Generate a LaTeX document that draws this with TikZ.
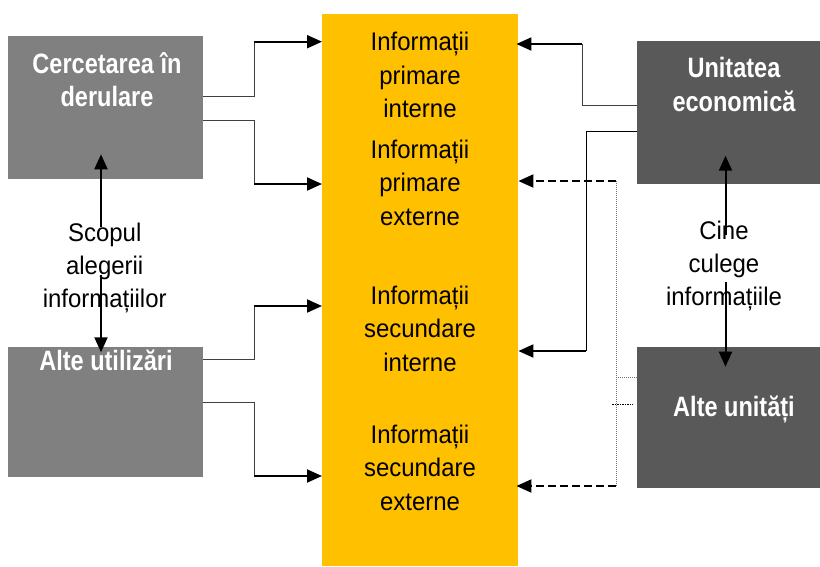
\documentclass[tikz,border=0pt]{standalone}
\usepackage{fontspec}
\setmainfont{Liberation Sans}
\newfontfamily\regf{Liberation Sans}[FakeStretch=0.94]
\newfontfamily\boldf{Liberation Sans}[FakeStretch=0.84]
\usetikzlibrary{arrows.meta}
\definecolor{lgray}{HTML}{808080}
\definecolor{dgray}{HTML}{595959}
\definecolor{gold}{HTML}{FFC000}
\begin{document}
\begin{tikzpicture}[x=1pt,y=-1pt,
  boxL/.style={fill=lgray, draw=none, anchor=north west, inner sep=0, minimum width=195pt},
  boxR/.style={fill=dgray, draw=none, anchor=north west, inner sep=0, minimum width=183pt},
  btext/.style={anchor=north, align=center, inner sep=0, text=white, font=\boldf\bfseries\fontsize{28}{33.5}\selectfont},
  ytext/.style={anchor=north, align=center, inner sep=0, font=\regf\fontsize{25.5}{33.5}\selectfont},
  ltext/.style={anchor=north, align=center, inner sep=0, font=\regf\fontsize{25.5}{33}\selectfont},
  arr/.style={line width=2pt, -{Triangle[length=15pt,width=13pt]}},
  darr/.style={line width=2pt, dash pattern=on 8pt off 4pt, -{Triangle[length=15pt,width=13pt]}},
  thinln/.style={line width=1pt, draw=black!75},
  dotln/.style={line width=1pt, draw=black!55, dash pattern=on 1pt off 1pt},
  dotblk/.style={line width=1pt, draw=black, dash pattern=on 1.5pt off 1pt}]
\useasboundingbox (0,0) rectangle (820,566);

% boxes
\node[fill=gold, draw=none, anchor=north west, inner sep=0, minimum width=196pt, minimum height=552pt] (col) at (322,14) {};
\node[boxL, minimum height=143pt] (cer) at (8,36) {};
\node[boxL, minimum height=130pt] (alt) at (8,347) {};
\node[boxR, minimum height=143pt] (uni) at (637,41) {};
\node[boxR, minimum height=141pt] (aun) at (637,347) {};

% box texts
\node[btext] (tcer) at (107,52) {Cercetarea în\\derulare};
\node[btext] (talt) at (106,350) {Alte utilizări};
\node[btext] (tuni) at (734,57.3) {Unitatea\\economică};
\node[btext] (taun) at (734,396) {Alte unități};

% yellow texts
\node[ytext] (y1) at (420,32) {Informații\\primare\\interne};
\node[ytext] (y2) at (420,139.4) {Informații\\primare\\externe};
\node[ytext] (y3) at (420,285.4) {Informații\\secundare\\interne};
\node[ytext] (y4) at (420,424.4) {Informații\\secundare\\externe};

% side labels
\node[ltext] (lscop) at (104.7,223) {Scopul\\alegerii\\informațiilor};
\node[ltext] (lcine) at (724,221.2) {Cine\\culege\\informațiile};

% vertical arrows
\coordinate (sa) at (101,227);
\coordinate (sb) at (101,275);
\draw[arr] (sa) -- (sa |- 0,154.3);
\draw[arr] (sb) -- (sb |- 0,352.3);
\coordinate (ca) at (725.5,235);
\coordinate (cb) at (725.5,282);
\draw[arr] (ca) -- (ca |- 0,155.7);
\draw[arr] (cb) -- (cb |- 0,366.7);

% left connectors
\coordinate (l1a) at (254,96.7);  \coordinate (l1b) at (254,41.7);
\coordinate (l2a) at (254,120);   \coordinate (l2b) at (254,184);
\coordinate (l3a) at (254,359.3); \coordinate (l3b) at (254,306);
\coordinate (l4a) at (254,402.3); \coordinate (l4b) at (254,476);
\draw[thinln] (cer.east |- l1a) -- (l1a) -- (l1b);
\draw[arr] (l1b) -- (col.west |- l1b);
\draw[thinln] (cer.east |- l2a) -- (l2a) -- (l2b);
\draw[arr] (l2b) -- (col.west |- l2b);
\draw[thinln] (alt.east |- l3a) -- (l3a) -- (l3b);
\draw[arr] (l3b) -- (col.west |- l3b);
\draw[thinln] (alt.east |- l4a) -- (l4a) -- (l4b);
\draw[arr] (l4b) -- (col.west |- l4b);

% right connectors
\coordinate (r1a) at (582.3,105); \coordinate (r1b) at (582.3,44);
\coordinate (r2a) at (586,131);   \coordinate (r2b) at (586,351);
\draw[thinln] (uni.west |- r1a) -- (r1a) -- (r1b);
\draw[arr] (r1b) -- ([xshift=-2pt]col.east |- r1b);
\draw[thinln, draw=black] (uni.west |- r2a) -- (r2a) -- (r2b);
\draw[arr] (r2b) -- (col.east |- r2b);

% dashed / dotted from Alte unitati
\coordinate (d1) at (616,181);
\coordinate (d2) at (616,486);
\draw[dotln] (d1) -- (d2);
\draw[darr] (d1) -- (col.east |- d1);
\draw[darr] (d2) -- ([xshift=-2pt]col.east |- d2);
\coordinate (e1) at (616,377.7);
\coordinate (e2) at (612,404.3);
\draw[dotln] (e1) -- (aun.west |- e1);
\draw[dotblk] (e2) -- ([xshift=-4pt]aun.west |- e2);
\end{tikzpicture}
\end{document}
